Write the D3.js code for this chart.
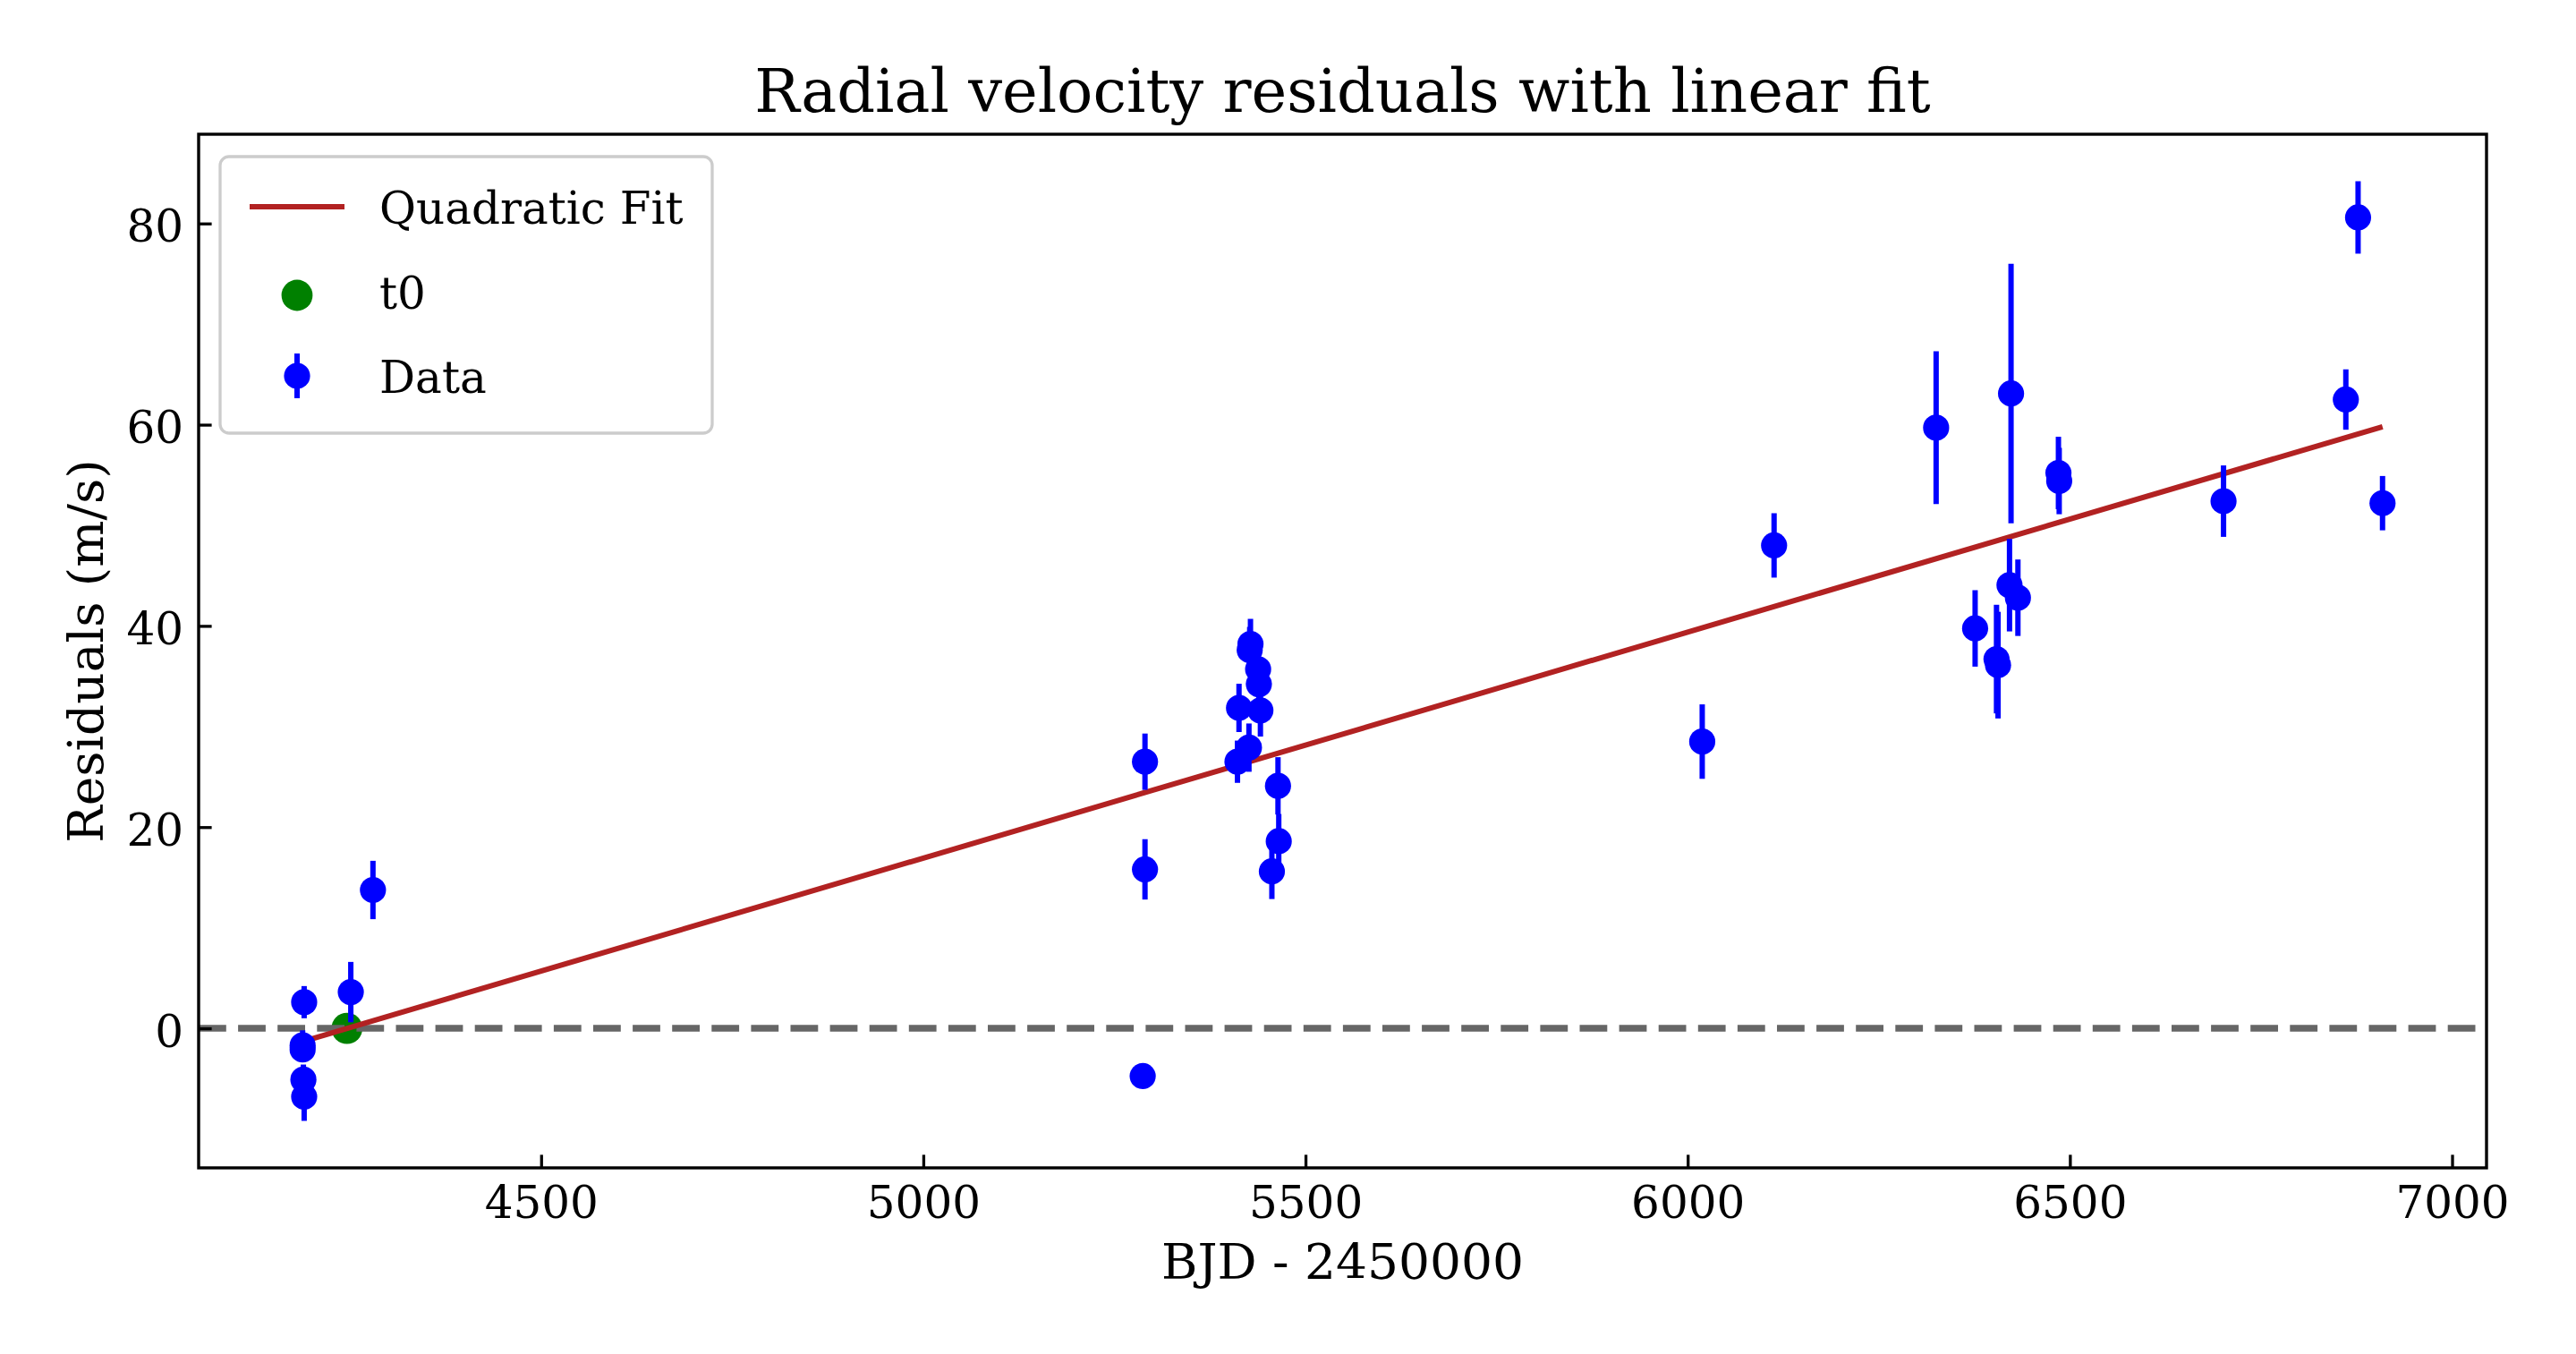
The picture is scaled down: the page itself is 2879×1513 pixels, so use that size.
<!DOCTYPE html>
<html><head><meta charset="utf-8">
<script src="https://cdn.jsdelivr.net/npm/d3@7"></script>
<style>body{margin:0;background:#fff}svg{display:block}</style>
</head><body>
<svg id="chart" width="2879" height="1513"></svg>
<script>
// ---- data ----
const bjd = [4190, 4188, 4188, 4189, 4190, 4251, 4280,
             5290, 5290, 5287,
             5428, 5427, 5438, 5439, 5413, 5441, 5426, 5411, 5464, 5465, 5456,
             6019, 6113,
             6325, 6423, 6485, 6486, 6421, 6432, 6376, 6404, 6406,
             6701, 6861, 6877, 6909];
const residuals = [2.6, -1.7, -2.1, -5.1, -6.8, 3.6, 13.75,
                   26.5, 15.8, -4.75,
                   38.2, 37.6, 35.7, 34.2, 31.85, 31.6, 27.9, 26.5, 24.1, 18.6, 15.6,
                   28.5, 48.0,
                   59.7, 63.1, 55.2, 54.4, 44.05, 42.8, 39.75, 36.7, 36.1,
                   52.4, 62.5, 80.6, 52.2];
const errors = [1.6, 1.5, 1.2, 1.5, 2.4, 3.0, 2.9,
                2.8, 3.0, 0.9,
                2.5, 2.3, 2.3, 2.3, 2.4, 2.6, 2.4, 2.1, 2.85, 2.7, 2.75,
                3.7, 3.2,
                7.6, 12.9, 3.6, 3.3, 4.6, 3.8, 3.8, 5.4, 5.3,
                3.55, 3.0, 3.6, 2.7];
const t0X = [4246];
const t0Y = [0];
const fitX = [4188, 6909];
const fitY = [-1.32, 59.8];
const xTicks = [4500, 5000, 5500, 6000, 6500, 7000];
const yTicks = [0, 20, 40, 60, 80];
const legendLabels = ["Quadratic Fit", "t0", "Data"];
const titleText = "Radial velocity residuals with linear fit";
const xLabelText = "BJD - 2450000";
const yLabelText = "Residuals (m/s)";

// ---- layout ----
const W = 2879, H = 1513;
const L = 222, R = 2779, T = 150, B = 1305;
const FONT = "'DejaVu Serif', 'Liberation Serif', serif";
const svg = d3.select("#chart");
svg.append("rect").attr("width", W).attr("height", H).attr("fill", "#fff");

const pts = bjd.map((x, i) => ({x, y: residuals[i], e: errors[i]}));
const xs = bjd.concat(t0X, fitX);
const ys = pts.flatMap(p => [p.y - p.e, p.y + p.e]).concat(t0Y, fitY);
const xMin = d3.min(xs), xMax = d3.max(xs), yMin = d3.min(ys), yMax = d3.max(ys);
const xPad = (xMax - xMin) * 0.05, yPad = (yMax - yMin) * 0.05;
const x = d3.scaleLinear().domain([xMin - xPad, xMax + xPad]).range([L, R]);
const y = d3.scaleLinear().domain([yMin - yPad, yMax + yPad]).range([B, T]);

svg.append("clipPath").attr("id", "clip").append("rect")
  .attr("x", L).attr("y", T).attr("width", R - L).attr("height", B - T);
const plot = svg.append("g").attr("clip-path", "url(#clip)");

// t0 marker
plot.selectAll("circle.t0").data(t0X).enter().append("circle")
  .attr("class", "t0").attr("cx", d => x(d)).attr("cy", (d, i) => y(t0Y[i]))
  .attr("r", 17.4).attr("fill", "#008000");

// zero dashed line
plot.append("line").attr("x1", L).attr("x2", R).attr("y1", y(0)).attr("y2", y(0))
  .attr("stroke", "#666666").attr("stroke-width", 7.5).attr("stroke-dasharray", "30.8 13.3");

// fit line
const line = d3.line().x(d => x(d[0])).y(d => y(d[1]));
plot.append("path").datum(fitX.map((v, i) => [v, fitY[i]])).attr("d", line)
  .attr("fill", "none").attr("stroke", "#b22222").attr("stroke-width", 6);

// error bars + points
const g = plot.append("g");
g.selectAll("line.err").data(pts).enter().append("line")
  .attr("x1", d => x(d.x)).attr("x2", d => x(d.x))
  .attr("y1", d => y(d.y - d.e)).attr("y2", d => y(d.y + d.e))
  .attr("stroke", "#0000ff").attr("stroke-width", 6);
g.selectAll("circle.pt").data(pts).enter().append("circle")
  .attr("cx", d => x(d.x)).attr("cy", d => y(d.y)).attr("r", 14.6).attr("fill", "#0000ff");

// spines
svg.append("rect").attr("x", L).attr("y", T).attr("width", R - L).attr("height", B - T)
  .attr("fill", "none").attr("stroke", "#000").attr("stroke-width", 3.4);

// x axis ticks
const xAxis = d3.axisBottom(x).tickValues(xTicks).tickFormat(d3.format("d"))
  .tickSizeInner(-14.6).tickSizeOuter(0).tickPadding(0);
const gx = svg.append("g").attr("transform", `translate(0,${B})`).call(xAxis);
gx.select(".domain").remove();
gx.selectAll(".tick line").attr("stroke", "#000").attr("stroke-width", 3.3);
gx.selectAll(".tick text").attr("y", 56).attr("dy", null)
  .attr("font-family", FONT).attr("font-size", 50).attr("fill", "#000");

// y axis ticks
const yAxis = d3.axisLeft(y).tickValues(yTicks).tickFormat(d3.format("d"))
  .tickSizeInner(-14.6).tickSizeOuter(0).tickPadding(0);
const gy = svg.append("g").attr("transform", `translate(${L},0)`).call(yAxis);
gy.select(".domain").remove();
gy.selectAll(".tick line").attr("stroke", "#000").attr("stroke-width", 3.3);
gy.selectAll(".tick text").attr("x", -17).attr("dy", 20)
  .attr("font-family", FONT).attr("font-size", 50).attr("fill", "#000");

// title & labels
svg.append("text").attr("x", (L + R) / 2).attr("y", 125).attr("text-anchor", "middle")
  .attr("font-family", FONT).attr("font-size", 67).text(titleText);
svg.append("text").attr("x", (L + R) / 2).attr("y", 1429).attr("text-anchor", "middle")
  .attr("font-family", FONT).attr("font-size", 55).text(xLabelText);
svg.append("text").attr("transform", `translate(115,${(T + B) / 2}) rotate(-90)`)
  .attr("text-anchor", "middle").attr("font-family", FONT).attr("font-size", 55).text(yLabelText);

// legend
const lg = svg.append("g");
lg.append("rect").attr("x", 246).attr("y", 175).attr("width", 550).attr("height", 309)
  .attr("rx", 10).attr("fill", "#fff").attr("fill-opacity", 0.8)
  .attr("stroke", "#cccccc").attr("stroke-width", 3.3);
const rowsY = [231, 330, 420];
const baseY = [250, 345, 439];
lg.append("line").attr("x1", 279).attr("x2", 385).attr("y1", rowsY[0]).attr("y2", rowsY[0])
  .attr("stroke", "#b22222").attr("stroke-width", 6);
lg.append("circle").attr("cx", 332).attr("cy", rowsY[1]).attr("r", 17.4).attr("fill", "#008000");
lg.append("line").attr("x1", 332).attr("x2", 332).attr("y1", rowsY[2] - 25).attr("y2", rowsY[2] + 25)
  .attr("stroke", "#0000ff").attr("stroke-width", 6);
lg.append("circle").attr("cx", 332).attr("cy", rowsY[2]).attr("r", 14.6).attr("fill", "#0000ff");
lg.selectAll("text.lab").data(legendLabels).enter().append("text")
  .attr("x", 424).attr("y", (d, i) => baseY[i])
  .attr("font-family", FONT).attr("font-size", 50).text(d => d);
</script>
</body></html>
